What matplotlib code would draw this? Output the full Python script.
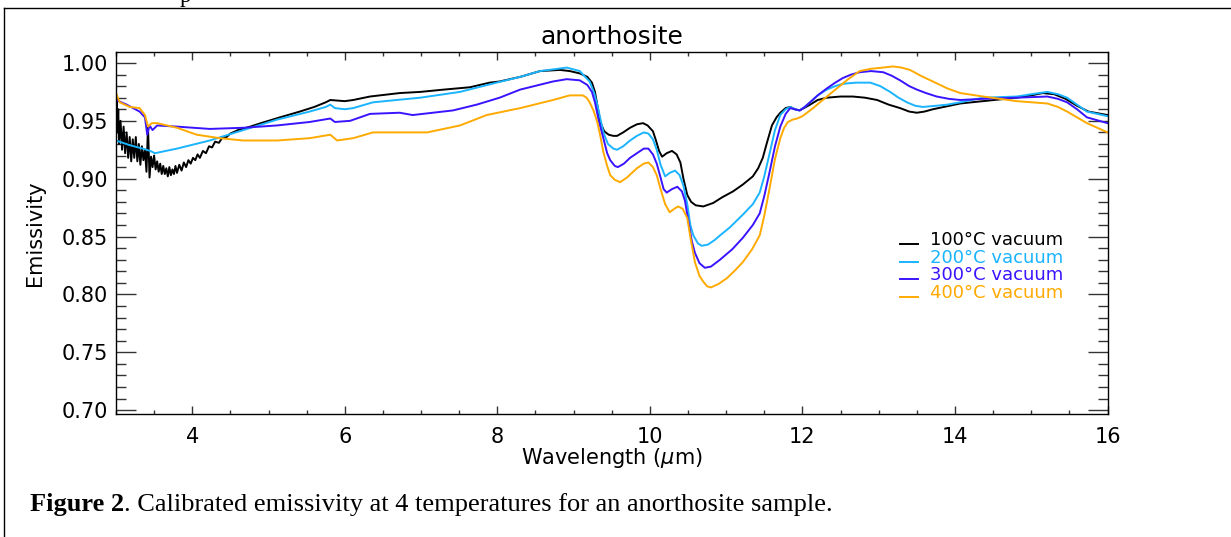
import numpy as np
import matplotlib
matplotlib.use("Agg")
import matplotlib.pyplot as plt
from matplotlib.lines import Line2D

# values: (wavelength um, emissivity)
pts_100 = [(3.00, 0.935), (3.01, 0.972), (3.02, 0.940), (3.03, 0.960), (3.04, 0.930),
           (3.06, 0.950), (3.08, 0.925), (3.10, 0.945), (3.12, 0.922), (3.14, 0.940),
           (3.16, 0.918), (3.18, 0.936), (3.20, 0.915), (3.22, 0.934), (3.24, 0.918),
           (3.26, 0.936), (3.28, 0.915), (3.30, 0.930), (3.32, 0.912), (3.34, 0.928),
           (3.36, 0.916), (3.38, 0.925), (3.40, 0.906), (3.42, 0.945), (3.44, 0.901),
           (3.46, 0.919), (3.48, 0.910), (3.50, 0.920), (3.52, 0.908), (3.54, 0.915),
           (3.56, 0.906), (3.58, 0.913), (3.60, 0.904), (3.62, 0.911), (3.64, 0.904),
           (3.66, 0.909), (3.68, 0.902), (3.70, 0.910), (3.72, 0.903), (3.74, 0.908),
           (3.76, 0.904), (3.78, 0.911), (3.80, 0.905), (3.83, 0.912), (3.86, 0.907),
           (3.89, 0.914), (3.92, 0.910), (3.95, 0.916), (3.98, 0.913), (4.01, 0.918),
           (4.04, 0.916), (4.07, 0.921), (4.10, 0.918), (4.14, 0.924), (4.18, 0.922),
           (4.22, 0.928), (4.26, 0.927), (4.30, 0.932), (4.35, 0.931), (4.40, 0.936),
           (4.45, 0.936), (4.50, 0.939), (4.60, 0.942), (4.76, 0.945), (4.90, 0.948),
           (5.00, 0.950), (5.15, 0.953), (5.41, 0.958), (5.60, 0.962), (5.75, 0.966),
           (5.81, 0.968), (6.00, 0.967), (6.11, 0.968), (6.33, 0.971), (6.72, 0.974),
           (6.99, 0.975), (7.30, 0.977), (7.64, 0.979), (7.90, 0.983), (8.03, 0.984),
           (8.30, 0.988), (8.56, 0.993), (8.82, 0.994), (8.95, 0.993), (9.08, 0.991),
           (9.18, 0.988), (9.24, 0.983), (9.28, 0.975), (9.32, 0.960), (9.35, 0.949),
           (9.40, 0.941), (9.46, 0.938), (9.52, 0.937), (9.57, 0.937), (9.65, 0.940),
           (9.74, 0.944), (9.83, 0.947), (9.91, 0.948), (9.97, 0.946), (10.04, 0.941),
           (10.08, 0.933), (10.12, 0.924), (10.16, 0.919), (10.22, 0.922), (10.29, 0.924),
           (10.35, 0.921), (10.40, 0.914), (10.44, 0.900), (10.49, 0.886), (10.54, 0.880),
           (10.60, 0.877), (10.70, 0.876), (10.83, 0.879), (10.95, 0.884), (11.09, 0.889),
           (11.22, 0.895), (11.35, 0.902), (11.42, 0.909), (11.48, 0.918), (11.53, 0.930),
           (11.60, 0.946), (11.66, 0.953), (11.71, 0.957), (11.78, 0.961), (11.84, 0.962),
           (11.90, 0.960), (11.96, 0.959), (12.02, 0.961), (12.10, 0.964), (12.20, 0.968),
           (12.32, 0.970), (12.50, 0.971), (12.66, 0.971), (12.82, 0.970), (12.98, 0.968),
           (13.13, 0.964), (13.28, 0.961), (13.40, 0.958), (13.50, 0.957), (13.60, 0.958),
           (13.71, 0.960), (14.07, 0.965), (14.37, 0.967), (14.81, 0.970), (15.00, 0.972),
           (15.15, 0.974), (15.30, 0.973), (15.45, 0.969), (15.60, 0.963), (15.75, 0.958),
           (16.00, 0.955)]

pts_200 = [(3.00, 0.933), (3.18, 0.929), (3.35, 0.926), (3.45, 0.924), (3.51, 0.922),
           (3.80, 0.926), (4.23, 0.933), (4.67, 0.942), (5.11, 0.951), (5.54, 0.958),
           (5.75, 0.962), (5.81, 0.964), (5.87, 0.961), (6.00, 0.960), (6.11, 0.961),
           (6.37, 0.966), (6.99, 0.970), (7.51, 0.975), (7.99, 0.983), (8.30, 0.988),
           (8.56, 0.993), (8.91, 0.996), (9.08, 0.993), (9.21, 0.984), (9.27, 0.974),
           (9.31, 0.964), (9.35, 0.952), (9.39, 0.940), (9.45, 0.930), (9.52, 0.926),
           (9.57, 0.925), (9.65, 0.928), (9.74, 0.933), (9.83, 0.937), (9.92, 0.940),
           (9.98, 0.939), (10.04, 0.934), (10.09, 0.925), (10.14, 0.912), (10.20, 0.902),
           (10.26, 0.905), (10.33, 0.907), (10.39, 0.903), (10.44, 0.894), (10.49, 0.878),
           (10.53, 0.860), (10.57, 0.851), (10.63, 0.844), (10.68, 0.842), (10.76, 0.843),
           (10.85, 0.847), (10.92, 0.851), (11.05, 0.858), (11.22, 0.869), (11.35, 0.878),
           (11.44, 0.888), (11.50, 0.902), (11.57, 0.922), (11.64, 0.942), (11.71, 0.955),
           (11.78, 0.960), (11.84, 0.962), (11.90, 0.960), (11.96, 0.959), (12.03, 0.962),
           (12.10, 0.966), (12.20, 0.972), (12.32, 0.977), (12.43, 0.980), (12.53, 0.982),
           (12.70, 0.983), (12.89, 0.983), (13.02, 0.980), (13.15, 0.975), (13.26, 0.970),
           (13.37, 0.966), (13.48, 0.963), (13.58, 0.962), (13.75, 0.963), (13.90, 0.964),
           (14.07, 0.966), (14.37, 0.970), (14.81, 0.971), (15.00, 0.973), (15.21, 0.975),
           (15.35, 0.973), (15.47, 0.970), (15.60, 0.964), (15.73, 0.958), (16.00, 0.954)]

pts_300 = [(3.00, 0.968), (3.14, 0.964), (3.31, 0.958), (3.38, 0.953), (3.41, 0.938),
           (3.44, 0.946), (3.48, 0.942), (3.54, 0.946), (3.80, 0.945), (4.23, 0.943),
           (4.67, 0.944), (5.11, 0.946), (5.54, 0.949), (5.81, 0.952), (5.87, 0.949),
           (6.07, 0.950), (6.33, 0.956), (6.72, 0.957), (6.89, 0.955), (7.42, 0.959),
           (7.73, 0.964), (8.03, 0.970), (8.30, 0.977), (8.73, 0.984), (8.91, 0.986),
           (9.08, 0.985), (9.18, 0.981), (9.24, 0.975), (9.28, 0.966), (9.33, 0.950),
           (9.39, 0.935), (9.44, 0.922), (9.48, 0.916), (9.54, 0.911), (9.58, 0.910),
           (9.66, 0.913), (9.74, 0.918), (9.83, 0.922), (9.92, 0.926), (9.98, 0.926),
           (10.04, 0.921), (10.09, 0.913), (10.14, 0.901), (10.18, 0.891), (10.22, 0.888),
           (10.29, 0.891), (10.36, 0.893), (10.42, 0.889), (10.46, 0.881), (10.50, 0.865),
           (10.55, 0.846), (10.59, 0.836), (10.65, 0.827), (10.72, 0.823), (10.80, 0.824),
           (10.92, 0.830), (11.08, 0.839), (11.22, 0.849), (11.35, 0.860), (11.44, 0.870),
           (11.50, 0.885), (11.57, 0.906), (11.64, 0.928), (11.71, 0.945), (11.78, 0.956),
           (11.84, 0.961), (11.90, 0.960), (11.97, 0.959), (12.03, 0.962), (12.10, 0.966),
           (12.20, 0.972), (12.32, 0.978), (12.43, 0.983), (12.53, 0.987), (12.64, 0.990),
           (12.75, 0.992), (12.90, 0.993), (13.06, 0.992), (13.17, 0.989), (13.28, 0.985),
           (13.40, 0.980), (13.50, 0.977), (13.62, 0.974), (13.76, 0.971), (13.92, 0.969),
           (14.07, 0.968), (14.37, 0.969), (14.81, 0.970), (15.21, 0.971), (15.35, 0.969),
           (15.47, 0.966), (15.60, 0.960), (15.73, 0.953), (16.00, 0.948)]

pts_400 = [(3.00, 0.974), (3.05, 0.966), (3.18, 0.962), (3.31, 0.961), (3.38, 0.955),
           (3.42, 0.945), (3.47, 0.948), (3.54, 0.948), (3.80, 0.944), (4.06, 0.938),
           (4.36, 0.935), (4.67, 0.933), (5.11, 0.933), (5.54, 0.935), (5.81, 0.938),
           (5.90, 0.933), (6.11, 0.935), (6.37, 0.940), (6.76, 0.940), (7.08, 0.940),
           (7.51, 0.946), (7.86, 0.955), (8.30, 0.961), (8.73, 0.968), (8.95, 0.972),
           (9.12, 0.972), (9.17, 0.970), (9.21, 0.966), (9.26, 0.959), (9.31, 0.949),
           (9.35, 0.937), (9.39, 0.923), (9.44, 0.911), (9.48, 0.903), (9.54, 0.899),
           (9.61, 0.897), (9.70, 0.901), (9.83, 0.909), (9.92, 0.913), (9.98, 0.914),
           (10.04, 0.910), (10.09, 0.903), (10.14, 0.891), (10.20, 0.878), (10.26, 0.871),
           (10.32, 0.874), (10.37, 0.876), (10.43, 0.874), (10.49, 0.866), (10.54, 0.846),
           (10.59, 0.828), (10.65, 0.816), (10.70, 0.811), (10.75, 0.807), (10.80, 0.806),
           (10.90, 0.809), (11.01, 0.814), (11.12, 0.821), (11.22, 0.828), (11.34, 0.839),
           (11.44, 0.851), (11.50, 0.868), (11.57, 0.892), (11.64, 0.917), (11.71, 0.935),
           (11.76, 0.944), (11.81, 0.949), (11.87, 0.951), (11.93, 0.952), (12.00, 0.954),
           (12.06, 0.957), (12.14, 0.961), (12.23, 0.966), (12.34, 0.972), (12.45, 0.978),
           (12.60, 0.986), (12.75, 0.993), (12.90, 0.995), (13.05, 0.996), (13.19, 0.997),
           (13.30, 0.996), (13.41, 0.994), (13.55, 0.989), (13.71, 0.984), (13.90, 0.978),
           (14.07, 0.974), (14.37, 0.971), (14.81, 0.967), (15.21, 0.965), (15.35, 0.962),
           (15.47, 0.958), (15.60, 0.953), (15.73, 0.948), (16.00, 0.940)]

labels = ["100°C vacuum", "200°C vacuum", "300°C vacuum", "400°C vacuum"]
colors = ["#000000", "#1ab4ff", "#3a14ff", "#ffaa00"]

plt.rcParams['font.family'] = ['DejaVu Sans']

fig = plt.figure(figsize=(12.31, 5.37), dpi=100)
ax = fig.add_axes([0.0942, 0.229, 0.8055, 0.6742])

for pts, c in zip([pts_100, pts_200, pts_300, pts_400], colors):
    wl, em = zip(*pts)
    ax.plot(wl, em, color=c, lw=1.4)

ax.set_xlim(3, 16)
ax.set_ylim(0.6966, 1.0095)
ax.set_xticks(np.arange(4, 17, 2))
ax.set_xticks(np.arange(3, 16.01, 0.5), minor=True)
ax.set_yticks(np.arange(0.70, 1.001, 0.05))
ax.set_yticks(np.arange(0.70, 1.001, 0.01), minor=True)
ax.yaxis.set_major_formatter(plt.FormatStrFormatter('%.2f'))

for s in ax.spines.values():
    s.set_linewidth(1.0)
ax.tick_params(axis='both', which='both', direction='in', top=True, right=True,
               color='#333333', labelsize=15)
ax.tick_params(axis='x', which='major', length=5.8, width=1.0, pad=9)
ax.tick_params(axis='x', which='minor', length=3, width=1.0)
ax.tick_params(axis='y', which='major', length=14.4, width=1.0, pad=6)
ax.tick_params(axis='y', which='minor', length=7.5, width=1.0)

ax.set_title("anorthosite", fontsize=18, pad=6)
ax.set_xlabel("Wavelength ($\\mu$m)", fontsize=15)
ax.set_ylabel("Emissivity", fontsize=15)
ax.xaxis.set_label_coords(0.5, -0.122)
ax.xaxis.label.set_va('center')
ax.yaxis.set_label_coords(-0.082, 0.5)
ax.yaxis.label.set_va('center')

# legend drawn by hand, text in line colour
leg_y = [0.481, 0.431, 0.384, 0.334]
for lab, c, y in zip(labels, colors, leg_y):
    ax.add_line(Line2D([0.791, 0.809], [y - 0.012, y - 0.012], color=c, lw=1.4,
                       transform=ax.transAxes))
    ax.text(0.821, y, lab, color=c, fontsize=13, va='center', ha='left',
            transform=ax.transAxes)

# box round the figure and the caption below
fig.add_artist(Line2D([4 / 1231, 4 / 1231], [0, 1 - 8 / 537], color='black', lw=1.0,
                      transform=fig.transFigure))
fig.add_artist(Line2D([4 / 1231, 1], [1 - 8 / 537, 1 - 8 / 537], color='black', lw=1.0,
                      transform=fig.transFigure))
fig.text(180 / 1231, 1 - 2 / 537, "p", family='Liberation Serif', fontsize=16.5,
         va='baseline')

t1 = fig.text(30 / 1231, 26 / 537, "Figure 2", family='Liberation Serif',
              fontsize=19, fontweight='bold', va='baseline')
ax.annotate(". Calibrated emissivity at 4 temperatures for an anorthosite sample.",
            xy=(1, 0), xycoords=t1, va='bottom', ha='left',
            family='Liberation Serif', fontsize=19, annotation_clip=False)

fig.savefig("out.png", dpi=100)
